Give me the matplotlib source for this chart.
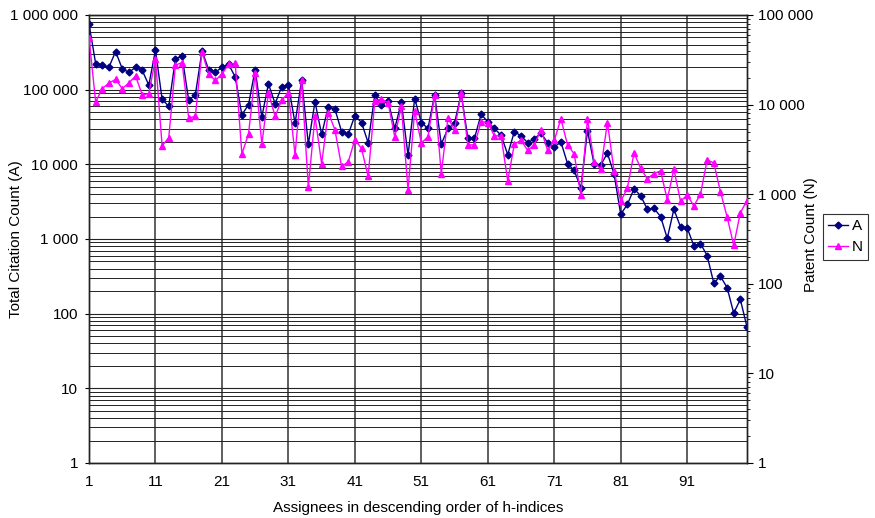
import numpy as np

import matplotlib
matplotlib.use('Agg')  # Use non-interactive backend

import matplotlib.pyplot as plt
from matplotlib.ticker import FixedLocator, FuncFormatter, LogLocator, NullFormatter

plt.rcParams['font.family'] = ['Liberation Sans', 'DejaVu Sans']

# assignee rank (x) and the two series
rank = list(range(1, 101))

citations_A = [
    760000, 224000, 214000, 200000, 324000, 191000, 170000, 200000, 182000, 115000,
    339000, 74000, 60000, 257000, 282000, 72000, 85000, 331000, 186000, 170000,
    200000, 219000, 148000, 46000, 63000, 186000, 43000, 120000, 65000, 110000,
    115000, 35500, 135000, 18600, 69000, 25100, 59000, 55000, 27500, 25100,
    45000, 36300, 19500, 85000, 62000, 71000, 30200, 68000, 13200, 76000,
    36300, 30200, 85000, 18600, 30200, 35500, 89000, 22400, 22400, 47000,
    37000, 30200, 24500, 13500, 27500, 24000, 19500, 21900, 26300, 19500,
    17000, 20000, 10200, 8300, 4800, 28200, 10000, 9800, 14100, 7400,
    2140, 2900, 4700, 3800, 2500, 2570, 2000, 1020, 2500, 1450,
    1410, 810, 870, 600, 257, 316, 224, 102, 155, 66,
]

patents_N = [
    56000, 10700, 15100, 17400, 19100, 15100, 17400, 20900, 12900, 13200,
    32400, 3470, 4270, 27500, 29500, 7080, 7410, 38900, 21900, 18600,
    21900, 28200, 28800, 2820, 4680, 22400, 3630, 13500, 7410, 11200,
    13500, 2750, 18600, 1200, 7410, 2190, 8130, 5250, 2040, 2290,
    4070, 3240, 1580, 11000, 11500, 10500, 4370, 9550, 1120, 8510,
    3720, 4370, 12900, 1700, 7080, 5250, 13500, 3550, 3550, 6460,
    6310, 4470, 4470, 1410, 3630, 3980, 3090, 3550, 5250, 3090,
    3980, 6920, 3550, 2820, 980, 6920, 2290, 1910, 6310, 1820,
    830, 1170, 2880, 1950, 1480, 1700, 1820, 870, 1910, 830,
    980, 740, 1000, 2400, 2240, 1070, 560, 270, 620, 850,
]

x_ticks = [1, 11, 21, 31, 41, 51, 61, 71, 81, 91]


def space_thousands(v, pos):
    return "{:,}".format(int(round(v))).replace(",", " ")


fig = plt.figure(figsize=(8.75, 5.18), dpi=100)
ax = fig.add_axes([89 / 875, 1 - 463 / 518, 658 / 875, 448 / 518])
ax2 = ax.twinx()

# left axis: citations
ax.set_yscale("log")
ax.set_ylim(1, 1e6)
ax.yaxis.set_major_locator(LogLocator(base=10, numticks=10))
ax.yaxis.set_minor_locator(LogLocator(base=10, subs=np.arange(2, 10), numticks=20))
ax.yaxis.set_major_formatter(FuncFormatter(space_thousands))
ax.yaxis.set_minor_formatter(NullFormatter())
ax.set_xlim(1, 100)
ax.xaxis.set_major_locator(FixedLocator(x_ticks))

ax.grid(True, which="major", axis="y", color="#222222", lw=0.8)
ax.grid(True, which="minor", axis="y", color="#222222", lw=0.7)
ax.grid(True, which="major", axis="x", color="#333333", lw=1.1)
ax.set_axisbelow(True)

lA, = ax.plot(rank, citations_A, "-D", color="#000080", lw=1, ms=3.5,
              label="A", zorder=3)

# right axis: patents
ax2.set_yscale("log")
ax2.set_ylim(1, 1e5)
ax2.yaxis.set_major_locator(LogLocator(base=10, numticks=10))
ax2.yaxis.set_major_formatter(FuncFormatter(space_thousands))
ax2.yaxis.set_minor_formatter(NullFormatter())
ax2.yaxis.set_minor_locator(LogLocator(base=10, subs=np.arange(2, 10), numticks=20))
lN, = ax2.plot(rank, patents_N, "-^", color="#FF00FF", lw=1, ms=5,
               label="N", zorder=3)

for a in (ax, ax2):
    for s in a.spines.values():
        s.set_color("#222222")
        s.set_linewidth(1)

ax.tick_params(axis="y", which="major", length=3, pad=5, labelsize=11)
ax.tick_params(axis="y", which="minor", length=0)
ax.tick_params(axis="x", length=0, pad=9, labelsize=11)
ax2.tick_params(axis="y", which="major", length=4, pad=4, labelsize=11)
ax2.tick_params(axis="y", which="minor", length=2)

ax.set_xlabel("Assignees in descending order of h-indices", fontsize=11, labelpad=8)
ax.set_ylabel("Total Citation Count (A)", fontsize=11)
ax2.set_ylabel("Patent Count (N)", fontsize=11)
# labels sit at fixed spots, as in the original layout
ax.yaxis.set_label_coords((23 - 89) / 658, 0.5)
ax2.yaxis.set_label_coords((804 - 89) / 658, 0.51)

leg = fig.legend(handles=[lA, lN], loc="upper left",
                 bbox_to_anchor=(823 / 875, 1 - 214 / 518),
                 fontsize=11, frameon=True, fancybox=False, handlelength=1.3,
                 handletextpad=0.25, borderpad=0.35, labelspacing=0.45,
                 borderaxespad=0)
leg.get_frame().set_edgecolor("black")
leg.get_frame().set_linewidth(0.8)

fig.savefig("out.png", dpi=100)
plt.close(fig)
